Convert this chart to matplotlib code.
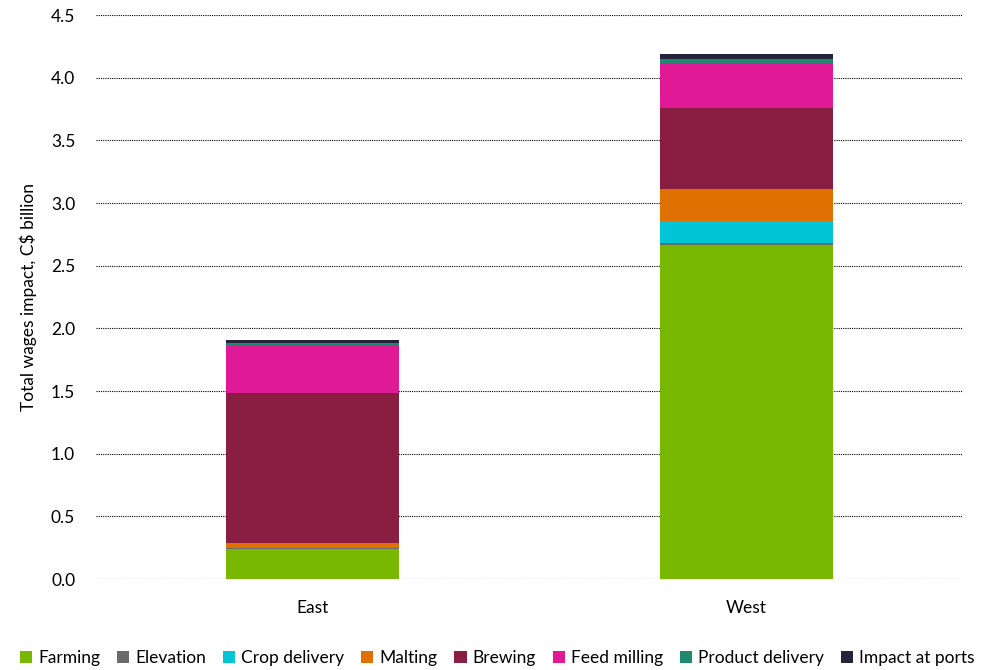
import matplotlib
matplotlib.use("Agg")
import matplotlib.pyplot as plt
import numpy as np

plt.rcParams['font.family'] = ['Lato', 'DejaVu Sans']

regions = ["East", "West"]
stages = ["Farming", "Elevation", "Crop delivery", "Malting", "Brewing",
          "Feed milling", "Product delivery", "Impact at ports"]
colours = ["#78b800", "#6b6b6b", "#00c5d6", "#e07000", "#8a1e42",
           "#e01a96", "#1f8a6e", "#23233a"]

# wages impact by stage, C$ billion (East, West)
farming = [0.240, 2.665]
elevation = [0.004, 0.015]
crop_delivery = [0.000, 0.177]
malting = [0.043, 0.255]
brewing = [1.197, 0.644]
feed_milling = [0.382, 0.361]
product_delivery = [0.018, 0.032]
impact_at_ports = [0.021, 0.038]

series = [farming, elevation, crop_delivery, malting, brewing,
          feed_milling, product_delivery, impact_at_ports]

fig = plt.figure(figsize=(9.84, 6.70), dpi=100)
ax = fig.add_axes([0.0976, 0.1358, 0.8811, 0.8418])

x = np.arange(len(regions))
bottom = np.zeros(len(regions))
for name, vals, col in zip(stages, series, colours):
    ax.bar(x, vals, 0.4, bottom=bottom, color=col, label=name, zorder=3)
    bottom += np.array(vals)

ax.set_xlim(-0.5, 1.5)
ax.set_ylim(0, 4.5)
ax.set_yticks(np.arange(0, 4.51, 0.5))
ax.set_yticklabels(["%.1f" % v for v in np.arange(0, 4.51, 0.5)])
ax.set_xticks(x)
ax.set_xticklabels(regions)
ax.tick_params(axis='both', length=0, labelsize=12.5, colors='black')
ax.tick_params(axis='y', pad=15)
ax.tick_params(axis='x', pad=15)
ax.set_ylabel("Total wages impact, C$ billion", fontsize=12.5, labelpad=10)

ax.grid(axis='y', color='black', linestyle=(0, (1, 1)), linewidth=0.8, zorder=0)
for s in ax.spines.values():
    s.set_visible(False)

ax.legend(loc='lower center', bbox_to_anchor=(0.463, -0.166), ncol=8,
          frameon=False, fontsize=12.5, handlelength=0.7, handleheight=0.7,
          handletextpad=0.35, columnspacing=0.97, borderaxespad=0)

fig.savefig("out.png", dpi=100)
